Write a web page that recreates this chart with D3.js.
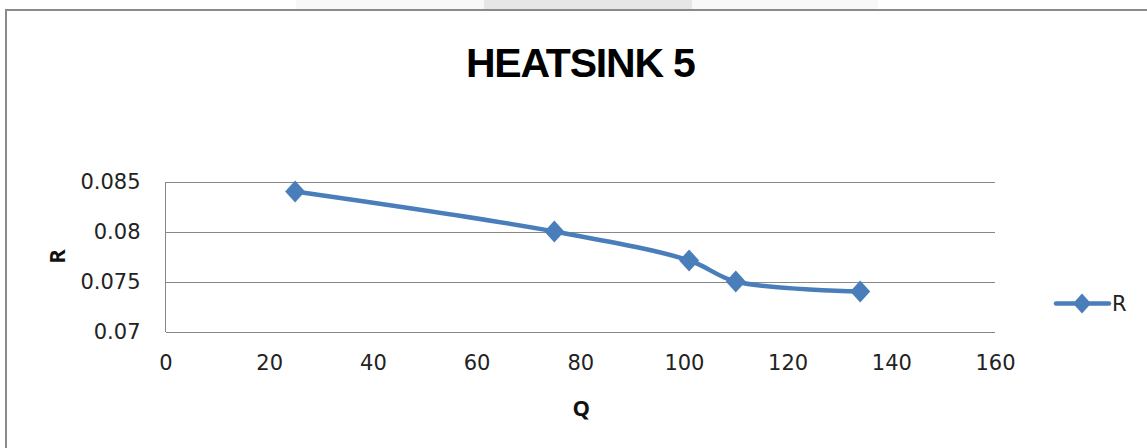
<!DOCTYPE html>
<html>
<head>
<meta charset="utf-8">
<script src="https://cdn.jsdelivr.net/npm/d3@7"></script>
<style>
  html, body { margin: 0; padding: 0; background: #fff; }
  svg { display: block; }
</style>
</head>
<body>
<svg id="chart" width="1147" height="448"></svg>
<script>
// ---- data ----
const chartTitle = "HEATSINK 5";
const seriesName = "R";
const xLabel = "Q";
const yLabel = "R";
const qValues = [25, 75, 101, 110, 134];
const rValues = [0.084, 0.080, 0.0771, 0.075, 0.074];
const xTicks = [0, 20, 40, 60, 80, 100, 120, 140, 160];
const yTicks = [0.07, 0.075, 0.08, 0.085];

// ---- layout ----
const W = 1147, H = 448;
const plot = { left: 165.5, right: 995, top: 181.5, bottom: 331.5 };
const lineColor = "#4a7ebb";
const gridColor = "#888888";
const font = "'DejaVu Sans', 'Open Sans', sans-serif";
const boldFont = "'Open Sans', 'Liberation Sans', sans-serif";

const svg = d3.select("#chart");

// faint screenshot artifacts at top
svg.append("rect").attr("x", 296).attr("y", 0).attr("width", 582).attr("height", 9).attr("fill", "#f8f8f8");
svg.append("rect").attr("x", 484).attr("y", 0).attr("width", 208).attr("height", 9).attr("fill", "#e6e6e7");

// chart border (top & left visible)
svg.append("line").attr("x1", 5).attr("x2", W).attr("y1", 10).attr("y2", 10)
  .attr("stroke", "#8a8a8a").attr("stroke-width", 2);
svg.append("line").attr("x1", 6).attr("x2", 6).attr("y1", 9).attr("y2", H)
  .attr("stroke", "#8a8a8a").attr("stroke-width", 2);

const x = d3.scaleLinear().domain([0, 160]).range([plot.left, plot.right]);
const y = d3.scaleLinear().domain([0.07, 0.085]).range([plot.bottom, plot.top]);

// gridlines
svg.append("g")
  .attr("transform", `translate(${plot.left},0)`)
  .call(d3.axisLeft(y).tickValues(yTicks).tickSize(-(plot.right - plot.left)).tickFormat(""))
  .call(g => g.select(".domain").remove())
  .call(g => g.selectAll("line").attr("stroke", gridColor).attr("stroke-width", 1).attr("shape-rendering", "crispEdges"));

// y axis line
svg.append("line").attr("x1", plot.left).attr("x2", plot.left).attr("y1", plot.top).attr("y2", plot.bottom)
  .attr("stroke", gridColor).attr("stroke-width", 1).attr("shape-rendering", "crispEdges");

// y tick labels
const yAxis = svg.append("g")
  .attr("transform", `translate(${plot.left},0)`)
  .call(d3.axisLeft(y).tickValues(yTicks).tickSize(0).tickPadding(25).tickFormat(d => String(+d.toFixed(3))));
yAxis.select(".domain").remove();
yAxis.selectAll("text").attr("font-family", font).attr("font-size", 21).attr("fill", "#222");

// x tick labels
const xAxis = svg.append("g")
  .attr("transform", `translate(0,${plot.bottom})`)
  .call(d3.axisBottom(x).tickValues(xTicks).tickSize(0).tickPadding(24).tickFormat(d3.format("d")));
xAxis.select(".domain").remove();
xAxis.selectAll("text").attr("font-family", font).attr("font-size", 21).attr("fill", "#222");

// title
svg.append("text").attr("x", (plot.left + plot.right) / 2).attr("y", 77)
  .attr("text-anchor", "middle")
  .attr("font-family", "'Liberation Sans', Arial, sans-serif")
  .attr("font-weight", "bold").attr("font-size", 41).attr("letter-spacing", "-1.2px").attr("fill", "#000")
  .text(chartTitle);

// axis titles
svg.append("text").attr("x", (plot.left + plot.right) / 2 + 1).attr("y", 416)
  .attr("text-anchor", "middle").attr("font-family", boldFont).attr("font-weight", "bold")
  .attr("font-size", 22).attr("fill", "#111").text(xLabel);
svg.append("text")
  .attr("transform", `translate(65,${(plot.top + plot.bottom) / 2}) rotate(-90)`)
  .attr("text-anchor", "middle").attr("font-family", boldFont).attr("font-weight", "bold")
  .attr("font-size", 22).attr("fill", "#111").text(yLabel);

// series
const pts = qValues.map((q, i) => [q, rValues[i]]);
const line = d3.line().x(d => x(d[0])).y(d => y(d[1])).curve(d3.curveCatmullRom.alpha(0.5));
svg.append("path").datum(pts).attr("d", line)
  .attr("fill", "none").attr("stroke", lineColor).attr("stroke-width", 4.5)
  .attr("stroke-linejoin", "round").attr("stroke-linecap", "round");

const diamond = (cx, cy, hw, hh) => `M${cx},${cy - hh}L${cx + hw},${cy}L${cx},${cy + hh}L${cx - hw},${cy}Z`;
svg.append("g").selectAll("path").data(pts).join("path")
  .attr("d", d => diamond(x(d[0]), y(d[1]), 10, 11))
  .attr("fill", lineColor);

// legend
const lg = svg.append("g");
lg.append("line").attr("x1", 1056).attr("x2", 1109).attr("y1", 303.5).attr("y2", 303.5)
  .attr("stroke", lineColor).attr("stroke-width", 4.5).attr("stroke-linecap", "round");
lg.append("path").attr("d", diamond(1082, 303.5, 9, 10)).attr("fill", lineColor);
lg.append("text").attr("x", 1112).attr("y", 303.5).attr("dy", "0.35em")
  .attr("font-family", font).attr("font-size", 21).attr("fill", "#222").text(seriesName);
</script>
</body>
</html>
